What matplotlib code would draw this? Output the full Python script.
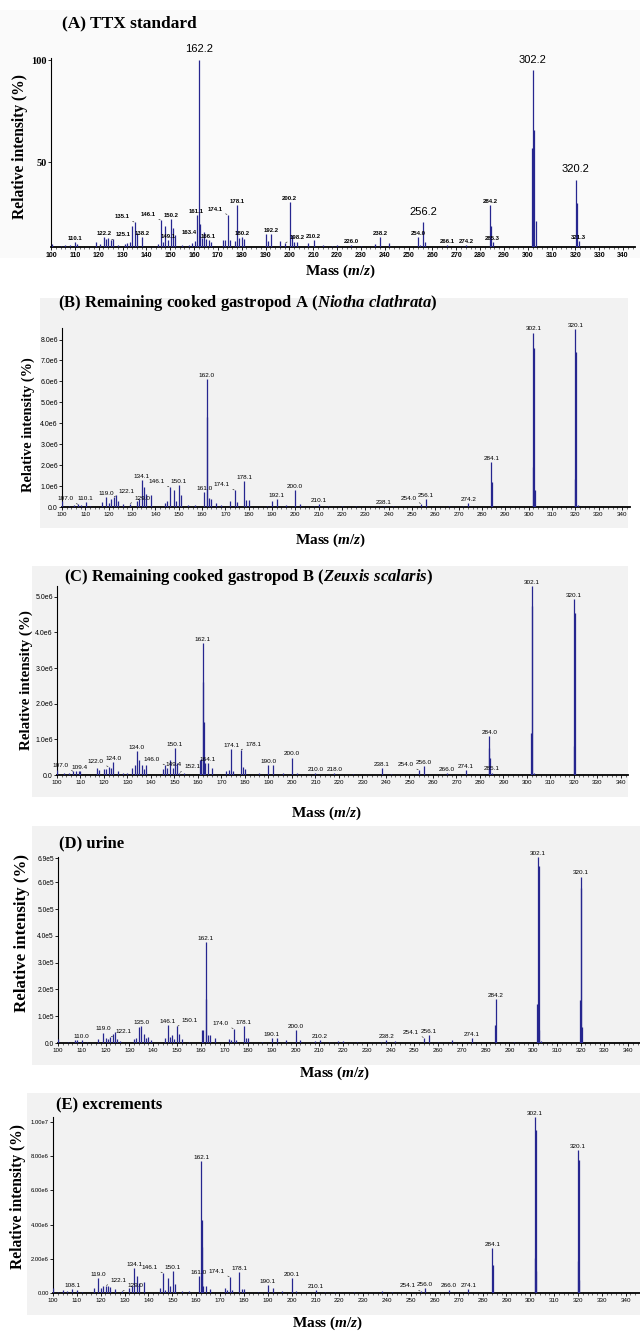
import matplotlib.pyplot as plt
from matplotlib.patches import Rectangle
from matplotlib.ticker import MultipleLocator

plt.rcParams['mathtext.fontset'] = 'custom'
plt.rcParams['mathtext.rm'] = 'Liberation Serif:bold'
plt.rcParams['mathtext.it'] = 'Liberation Serif:italic:bold'
plt.rcParams['mathtext.bf'] = 'Liberation Serif:bold'

SERIF = 'Liberation Serif'
NARROW = ['Liberation Sans Narrow', 'Liberation Sans']
BLUE = '#26268f'

# ---- data: (m/z, intensity) per spectrum ----
peaks_a = [(100.3, 10.0), (104.0, 9.2), (106.0, 9.3), (108.0, 9.4), (110.1, 10.8), (111.0, 10.0),
           (119.0, 10.8), (120.5, 9.8), (122.2, 13.3), (123.0, 12.5), (124.0, 12.8), (125.1, 11.8),
           (126.0, 12.2), (128.0, 9.5), (131.0, 10.0), (132.0, 10.5), (133.0, 11.0), (134.0, 18.7),
           (135.1, 20.6), (136.0, 15.4), (138.2, 13.3), (145.0, 9.8), (146.1, 21.6), (147.0, 11.0),
           (148.0, 19.0), (149.1, 12.0), (150.2, 22.3), (151.0, 17.9), (152.0, 14.5), (155.0, 9.4),
           (158.0, 9.5), (159.0, 10.5), (160.5, 11.5), (161.1, 24.3), (162.2, 100.0), (162.7, 20.0),
           (163.4, 13.0), (164.0, 16.0), (165.0, 12.5), (166.1, 12.0), (167.0, 11.0), (172.0, 11.8),
           (173.0, 12.0), (174.1, 24.3), (175.0, 11.8), (177.0, 11.5), (178.1, 29.0), (179.0, 13.0),
           (180.2, 13.4), (181.0, 12.5), (190.0, 15.0), (191.0, 11.5), (192.2, 15.0), (196.0, 11.5),
           (198.2, 10.5), (200.2, 30.5), (201.0, 14.5), (202.0, 11.0), (203.0, 11.0), (208.0, 10.5),
           (210.2, 12.0), (214.0, 9.6), (218.0, 9.2), (220.0, 9.3), (226.0, 9.4), (230.0, 9.0),
           (236.0, 9.8), (238.2, 13.3), (242.0, 10.4), (254.0, 13.3), (255.0, 9.7), (256.2, 20.6),
           (257.0, 11.0), (266.1, 9.3), (274.2, 9.6), (284.2, 29.0), (284.6, 19.0), (285.3, 11.0),
           (301.8, 57.0), (302.2, 95.0), (302.6, 66.0), (303.4, 21.0), (320.2, 41.5), (320.5, 30.0),
           (321.3, 11.3)]
labels_a = [('110.1', 'c'), ('122.2', 'c'), ('125.1', 'r'), ('135.1', 'l'), ('138.2', 'c'),
            ('146.1', 'l'), ('149.1', 'c'), ('150.2', 'c'), ('161.1', 'c'), ('163.4', 'l'),
            ('166.1', 'c'), ('174.1', 'l'), ('178.1', 'c'), ('180.2', 'c'), ('192.2', 'c'),
            ('198.2', 'r'), ('200.2', 'c'), ('210.2', 'c'), ('226.0', 'c'), ('238.2', 'c'),
            ('254.0', 'c'), ('266.1', 'c'), ('274.2', 'c'), ('284.2', 'c'), ('285.3', 'c'),
            ('321.3', 'c')]
big_labels_a = ['162.2', '256.2', '302.2', '320.2']

peaks_b = [(100.2, 0.30), (103.0, 0.06), (105.0, 0.08), (107.0, 0.12), (108.0, 0.10), (110.1, 0.24),
           (112.0, 0.06), (117.0, 0.24), (119.0, 0.48), (120.0, 0.20), (121.0, 0.40), (122.1, 0.48),
           (123.0, 0.55), (124.0, 0.30), (126.0, 0.12), (129.0, 0.16), (132.0, 0.30), (133.0, 0.40),
           (134.1, 1.27), (135.0, 0.95), (136.0, 0.63), (138.0, 0.55), (144.0, 0.20), (145.0, 0.30),
           (146.1, 0.95), (148.0, 0.80), (149.0, 0.30), (150.1, 1.03), (151.0, 0.55), (154.0, 0.08),
           (157.0, 0.08), (161.0, 0.70), (162.0, 6.10), (162.3, 4.30), (163.0, 0.45), (164.0, 0.40),
           (166.0, 0.20), (168.0, 0.08), (172.0, 0.30), (174.1, 0.80), (175.0, 0.25), (178.1, 1.24),
           (179.0, 0.32), (180.0, 0.32), (188.0, 0.06), (190.0, 0.30), (192.1, 0.40), (196.0, 0.08),
           (200.0, 0.83), (202.0, 0.16), (208.0, 0.06), (210.1, 0.16), (214.0, 0.06), (220.0, 0.06),
           (226.0, 0.05), (238.1, 0.05), (242.0, 0.05), (254.0, 0.16), (256.1, 0.40), (266.0, 0.05),
           (272.0, 0.05), (274.2, 0.20), (284.1, 2.14), (284.3, 1.20), (301.8, 1.90), (302.1, 8.33),
           (302.3, 7.60), (302.7, 0.80), (319.9, 1.35), (320.1, 8.50), (320.3, 7.40), (321.0, 0.10)]
labels_b = [('107.0', 'l'), ('110.1', 'c'), ('119.0', 'c'), ('122.1', 'r'), ('129.0', 'r'),
            ('134.1', 'c'), ('146.1', 'l'), ('150.1', 'c'), ('161.0', 'c'), ('162.0', 'c'),
            ('174.1', 'l'), ('178.1', 'c'), ('192.1', 'c'), ('200.0', 'c'), ('210.1', 'c'),
            ('238.1', 'c'), ('254.0', 'l'), ('256.1', 'c'), ('274.2', 'c'), ('284.1', 'c'),
            ('302.1', 'c'), ('320.1', 'c')]

peaks_c = [(100.2, 0.15), (103.0, 0.05), (105.0, 0.06), (107.0, 0.10), (108.0, 0.12), (109.4, 0.12),
           (110.0, 0.10), (117.0, 0.21), (118.0, 0.15), (120.0, 0.16), (121.0, 0.18), (122.0, 0.23),
           (123.0, 0.20), (124.0, 0.37), (126.0, 0.10), (128.0, 0.06), (130.0, 0.07), (132.0, 0.19),
           (133.0, 0.28), (134.0, 0.68), (135.0, 0.42), (136.0, 0.28), (137.0, 0.16), (138.0, 0.28),
           (145.0, 0.16), (146.0, 0.28), (147.0, 0.21), (148.0, 0.42), (149.4, 0.19), (150.1, 0.75),
           (151.0, 0.33), (152.1, 0.07), (154.0, 0.07), (160.7, 0.42), (161.3, 0.45), (162.1, 3.70),
           (162.3, 2.60), (162.5, 1.50), (163.0, 0.33), (164.1, 0.33), (166.0, 0.20), (172.0, 0.10),
           (173.0, 0.14), (174.1, 0.72), (175.0, 0.10), (178.1, 0.70), (179.0, 0.23), (180.0, 0.16),
           (186.0, 0.05), (190.0, 0.28), (192.0, 0.28), (196.0, 0.05), (200.0, 0.49), (202.0, 0.05),
           (210.0, 0.05), (218.0, 0.05), (226.0, 0.04), (238.1, 0.19), (242.0, 0.04), (254.0, 0.14),
           (256.0, 0.25), (266.0, 0.05), (274.1, 0.14), (283.8, 0.75), (284.0, 1.10), (284.4, 0.47),
           (285.1, 0.07), (301.9, 1.17), (302.1, 5.29), (302.3, 4.75), (303.0, 0.05), (319.9, 0.80),
           (320.1, 4.93), (320.3, 4.54)]
labels_c = [('107.0', 'l'), ('109.4', 'c'), ('122.0', 'l'), ('124.0', 'c'), ('134.0', 'c'),
            ('146.0', 'l'), ('149.4', 'c'), ('150.1', 'c'), ('152.1', 'r'), ('162.1', 'c'),
            ('164.1', 'c'), ('174.1', 'c'), ('178.1', 'r'), ('190.0', 'c'), ('200.0', 'c'),
            ('210.0', 'c'), ('218.0', 'c'), ('238.1', 'c'), ('254.0', 'l'), ('256.0', 'c'),
            ('266.0', 'c'), ('274.1', 'c'), ('284.0', 'c'), ('285.1', 'c'), ('302.1', 'c'),
            ('320.1', 'c')]

peaks_d = [(100.2, 0.15), (104.0, 0.05), (107.0, 0.10), (108.0, 0.10), (110.0, 0.10), (112.0, 0.05),
           (117.0, 0.15), (119.0, 0.39), (120.0, 0.20), (121.0, 0.16), (122.1, 0.22), (123.0, 0.35),
           (124.0, 0.41), (125.0, 0.15), (126.0, 0.08), (132.0, 0.15), (133.0, 0.20), (134.0, 0.60),
           (135.0, 0.62), (136.0, 0.35), (137.0, 0.20), (138.0, 0.22), (139.0, 0.10), (145.0, 0.20),
           (146.1, 0.66), (147.0, 0.22), (148.0, 0.29), (149.0, 0.15), (150.1, 0.62), (151.0, 0.35),
           (152.0, 0.15), (155.0, 0.05), (160.5, 0.47), (161.0, 0.50), (162.1, 3.77), (162.3, 1.65),
           (163.0, 0.29), (164.0, 0.29), (166.0, 0.20), (172.0, 0.15), (173.0, 0.10), (174.0, 0.53),
           (175.0, 0.12), (178.1, 0.63), (179.0, 0.20), (180.0, 0.20), (186.0, 0.05), (190.1, 0.20),
           (192.0, 0.20), (196.0, 0.12), (200.0, 0.50), (202.0, 0.10), (208.0, 0.08), (210.2, 0.12),
           (214.0, 0.05), (218.0, 0.08), (220.0, 0.07), (226.0, 0.05), (236.0, 0.05), (238.2, 0.12),
           (242.0, 0.06), (254.1, 0.20), (256.1, 0.30), (260.0, 0.04), (266.0, 0.10), (274.1, 0.19),
           (283.8, 0.66), (284.2, 1.65), (292.0, 0.05), (301.8, 1.47), (302.1, 6.95), (302.3, 6.63),
           (302.6, 0.47), (303.2, 0.08), (319.9, 1.60), (320.1, 6.22), (320.3, 5.80), (320.6, 0.60)]
labels_d = [('110.0', 'c'), ('119.0', 'c'), ('122.1', 'r'), ('135.0', 'c'), ('146.1', 'c'),
            ('150.1', 'r'), ('162.1', 'c'), ('174.0', 'l'), ('178.1', 'c'), ('190.1', 'c'),
            ('200.0', 'c'), ('210.2', 'c'), ('238.2', 'c'), ('254.1', 'l'), ('256.1', 'c'),
            ('274.1', 'c'), ('284.2', 'c'), ('302.1', 'c'), ('320.1', 'c')]

peaks_e = [(100.2, 0.30), (102.0, 0.08), (104.0, 0.15), (106.0, 0.10), (108.1, 0.23), (110.0, 0.15),
           (112.0, 0.08), (117.0, 0.30), (119.0, 0.88), (120.0, 0.30), (121.0, 0.40), (122.1, 0.43),
           (123.0, 0.43), (124.0, 0.35), (126.0, 0.25), (129.0, 0.10), (132.0, 0.30), (133.0, 0.40),
           (134.1, 1.46), (135.0, 1.00), (136.0, 0.58), (138.0, 0.62), (145.0, 0.30), (146.1, 1.17),
           (147.0, 0.20), (148.0, 0.88), (149.0, 0.40), (150.1, 1.27), (151.0, 0.55), (154.0, 0.10),
           (157.0, 0.10), (161.0, 1.00), (162.1, 7.70), (162.3, 4.30), (162.5, 2.70), (163.0, 0.40),
           (164.0, 0.43), (166.0, 0.25), (172.0, 0.30), (173.0, 0.15), (174.1, 0.94), (175.0, 0.15),
           (178.1, 1.20), (179.0, 0.25), (180.0, 0.25), (186.0, 0.08), (190.1, 0.49), (192.0, 0.30),
           (196.0, 0.10), (200.1, 0.88), (202.0, 0.10), (210.1, 0.15), (214.0, 0.05), (218.0, 0.06),
           (226.0, 0.05), (238.0, 0.10), (242.0, 0.08), (254.1, 0.10), (256.0, 0.30), (266.0, 0.20),
           (274.1, 0.23), (284.1, 2.63), (284.3, 1.66), (301.8, 2.05), (302.1, 10.30), (302.3, 9.55),
           (302.6, 1.27), (319.9, 1.85), (320.1, 8.34), (320.3, 7.80), (320.6, 0.78)]
labels_e = [('108.1', 'c'), ('119.0', 'c'), ('122.1', 'r'), ('129.0', 'r'), ('134.1', 'c'),
            ('146.1', 'l'), ('150.1', 'c'), ('161.0', 'c'), ('162.1', 'c'), ('174.1', 'l'),
            ('178.1', 'c'), ('190.1', 'c'), ('200.1', 'c'), ('210.1', 'c'), ('254.1', 'l'),
            ('256.0', 'c'), ('266.0', 'c'), ('274.1', 'c'), ('284.1', 'c'), ('302.1', 'c'),
            ('320.1', 'c')]

xticks = list(range(100, 341, 10))
yticks_a, ylabels_a = [50, 100], ['50', '100']
yticks_b = [0, 1, 2, 3, 4, 5, 6, 7, 8]
ylabels_b = ['0.0', '1.0e6', '2.0e6', '3.0e6', '4.0e6', '5.0e6', '6.0e6', '7.0e6', '8.0e6']
yticks_c = [0, 1, 2, 3, 4, 5]
ylabels_c = ['0.0', '1.0e6', '2.0e6', '3.0e6', '4.0e6', '5.0e6']
yticks_d = [0, 1, 2, 3, 4, 5, 6, 6.9]
ylabels_d = ['0.0', '1.0e5', '2.0e5', '3.0e5', '4.0e5', '5.0e5', '6.0e5', '6.9e5']
yticks_e = [0, 2, 4, 6, 8, 10]
ylabels_e = ['0.00', '2.00e6', '4.00e6', '6.00e6', '8.00e6', '1.00e7']

titles = ['(A) TTX standard',
          r'(B) Remaining cooked gastropod A ($Niotha\ clathrata$)',
          r'(C) Remaining cooked gastropod B ($Zeuxis\ scalaris$)',
          '(D) urine',
          '(E) excrements']

# ---- layout in pixels ----
W, H = 640, 1331
fig = plt.figure(figsize=(W / 100, H / 100), dpi=100)


def fx(x):
    return x / W


def fy(y):
    return 1 - y / H


def background(l, t, r, b, color):
    fig.add_artist(Rectangle((fx(l), fy(b)), (r - l) / W, (b - t) / H,
                             transform=fig.transFigure, color=color, zorder=-10, lw=0))


def make_axes(l, t, r, b):
    ax = fig.add_axes([fx(l), fy(b), (r - l) / W, (b - t) / H])
    ax.set_facecolor('none')
    ax.spines['top'].set_visible(False)
    ax.spines['right'].set_visible(False)
    ax.spines['left'].set_linewidth(0.8)
    ax.spines['bottom'].set_linewidth(1.3)
    return ax


def draw(ax, peaks, base, lw=0.9):
    ax.vlines([p[0] for p in peaks], base, [p[1] for p in peaks], color=BLUE, lw=lw, zorder=3)


def annotate(ax, peaks, labels, size, weight, family, dy=0.8):
    for text, side in labels:
        m = float(text)
        top = max(v for x, v in peaks if abs(x - m) < 0.45)
        kw = dict(textcoords='offset points', fontsize=size, fontweight=weight,
                  fontfamily=family, va='bottom', zorder=4, annotation_clip=False)
        if side == 'c':
            ax.annotate(text, (m, top), xytext=(0, dy), ha='center', **kw)
        else:
            sx = -3.5 if side == 'l' else 3.5
            ax.annotate(text, (m, top), xytext=(sx, 2.2), ha='right' if side == 'l' else 'left',
                        arrowprops=dict(arrowstyle='-', lw=0.4, color='k', shrinkA=0, shrinkB=0.5),
                        **kw)


def xaxis(ax, xlim, size, weight):
    ax.set_xlim(*xlim)
    ax.set_xticks(xticks, [str(v) for v in xticks], fontsize=size, fontweight=weight,
                  fontfamily=NARROW)
    ax.xaxis.set_minor_locator(MultipleLocator(2))
    ax.tick_params(axis='x', which='major', length=2.5, width=0.6, pad=1.2)
    ax.tick_params(axis='x', which='minor', length=1.2, width=0.4)


def yaxis(ax, ylim, ticks, labels, size, family, weight='normal'):
    ax.set_ylim(*ylim)
    ax.set_yticks(ticks, labels, fontsize=size, fontfamily=family, fontweight=weight)
    ax.tick_params(axis='y', which='major', length=2, width=0.6, pad=1.0)


def fig_text(x, y, s, size, **kw):
    fig.text(fx(x), fy(y), s, fontsize=size, fontfamily=SERIF, fontweight='bold', **kw)


# panel backgrounds
background(0, 10, 640, 258, '#fafafa')
background(40, 298, 628, 528, '#f2f2f2')
background(32, 566, 628, 797, '#f2f2f2')
background(32, 826, 640, 1065, '#f2f2f2')
background(27, 1093, 640, 1315, '#f2f2f2')

# (A)
ax = make_axes(51, 58, 635, 247)
draw(ax, peaks_a, 8.5)
xaxis(ax, (100, 345), 5, 'bold')
yaxis(ax, (8.5, 101), yticks_a, ylabels_a, 7.5, SERIF, 'bold')
annotate(ax, peaks_a, labels_a, 4.3, 'bold', NARROW)
annotate(ax, peaks_a, [(t, 'c') for t in big_labels_a], 8, 'normal', 'Liberation Sans', dy=4)

# (B)
ax = make_axes(62, 328, 630, 507)
draw(ax, peaks_b, 0)
xaxis(ax, (100, 343.5), 4.5, 'normal')
yaxis(ax, (0, 8.55), yticks_b, ylabels_b, 5, NARROW)
annotate(ax, peaks_b, labels_b, 4.6, 'normal', NARROW)

# (C)
ax = make_axes(57, 586, 628, 775)
draw(ax, peaks_c, 0)
xaxis(ax, (100, 343), 4.5, 'normal')
yaxis(ax, (0, 5.3), yticks_c, ylabels_c, 5, NARROW)
annotate(ax, peaks_c, labels_c, 4.6, 'normal', NARROW)

# (D)
ax = make_axes(58, 857, 640, 1043)
draw(ax, peaks_d, 0)
xaxis(ax, (100, 345), 4.5, 'normal')
yaxis(ax, (0, 6.95), yticks_d, ylabels_d, 4.8, NARROW)
annotate(ax, peaks_d, labels_d, 4.6, 'normal', NARROW)

# (E)
ax = make_axes(53, 1117, 640, 1293)
draw(ax, peaks_e, 0)
xaxis(ax, (100, 346), 4.5, 'normal')
yaxis(ax, (0, 10.3), yticks_e, ylabels_e, 4.2, NARROW)
annotate(ax, peaks_e, labels_e, 4.6, 'normal', NARROW)

# titles, axis labels
title_pos = [(62, 23, 12.5), (58, 303, 12), (64, 577, 12), (59, 843, 12), (56, 1105, 12)]
for (x, y, s), t in zip(title_pos, titles):
    fig_text(x, y, t, s, ha='left', va='center')

xlab_pos = [(341, 271), (331, 540), (327, 813), (335, 1073), (328, 1323)]
for x, y in xlab_pos:
    fig_text(x, y, r'Mass ($m/z$)', 11, ha='center', va='center')

ylab_pos = [(20, 147, 11.2), (28, 425, 10.4), (26, 680, 10.8), (22, 933, 12.2), (18, 1197, 11.2)]
for x, y, s in ylab_pos:
    fig_text(x, y, 'Relative intensity (%)', s, ha='center', va='center', rotation=90)

fig.savefig('out.png', dpi=100)
